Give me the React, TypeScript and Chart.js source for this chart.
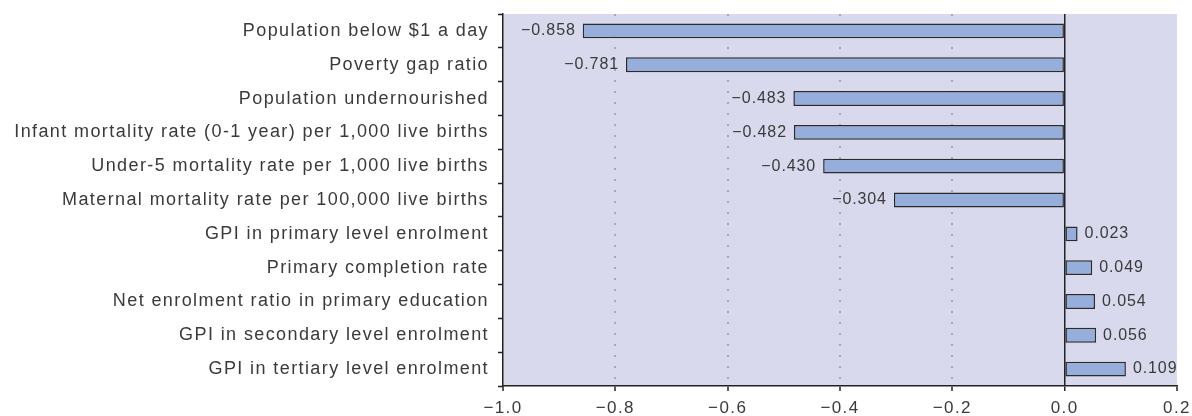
import React, { useEffect, useRef } from "react";
import { Chart, registerables } from "chart.js";

Chart.register(...registerables);

const categories = [
  "Population below $1 a day",
  "Poverty gap ratio",
  "Population undernourished",
  "Infant mortality rate (0-1 year) per 1,000 live births",
  "Under-5 mortality rate per 1,000 live births",
  "Maternal mortality rate per 100,000 live births",
  "GPI in primary level enrolment",
  "Primary completion rate",
  "Net enrolment ratio in primary education",
  "GPI in secondary level enrolment",
  "GPI in tertiary level enrolment",
];

const correlations = [-0.858, -0.781, -0.483, -0.482, -0.43, -0.304, 0.023, 0.049, 0.054, 0.056, 0.109];

const xMin = -1.0;
const xMax = 0.2;
const xStep = 0.2;

const FONT = "'Liberation Sans', Arial, sans-serif";
const TEXT = "#3a3a3a";
const PLOT_BG = "#d9d9ed";

const fmt = (v: number, d: number) => {
  const s = Math.abs(v).toFixed(d);
  return v < 0 ? "\u2212" + s : s;
};

const plotBg = {
  id: "plotBg",
  beforeDraw(chart: any) {
    const { ctx, chartArea } = chart;
    (ctx as any).letterSpacing = "1.4px";
    ctx.save();
    ctx.fillStyle = PLOT_BG;
    ctx.fillRect(chartArea.left, chartArea.top, chartArea.right - chartArea.left, chartArea.bottom - chartArea.top);
    ctx.restore();
  },
};

const valueLabels = {
  id: "valueLabels",
  afterDatasetsDraw(chart: any) {
    const { ctx } = chart;
    const meta = chart.getDatasetMeta(0);
    const data = chart.data.datasets[0].data as number[];
    ctx.save();
    (ctx as any).letterSpacing = "0.9px";
    ctx.font = `16px ${FONT}`;
    ctx.fillStyle = TEXT;
    ctx.textBaseline = "middle";
    meta.data.forEach((bar: any, i: number) => {
      const v = data[i];
      if (v < 0) {
        ctx.textAlign = "right";
        ctx.fillText(fmt(v, 3), bar.x - 7, bar.y);
      } else {
        ctx.textAlign = "left";
        ctx.fillText(fmt(v, 3), bar.x + 7, bar.y);
      }
    });
    ctx.restore();
  },
};

export default function App() {
  const ref = useRef<HTMLCanvasElement | null>(null);

  useEffect(() => {
    document.body.style.margin = "0";
    if (!ref.current) return;
    const chart = new Chart(ref.current, {
      type: "bar",
      data: {
        labels: categories,
        datasets: [
          {
            data: correlations,
            backgroundColor: "#96aedb",
            borderColor: "#2b2b2b",
            borderWidth: 1.5,
            borderSkipped: false,
            categoryPercentage: 1,
            barPercentage: 0.44,
          },
        ],
      },
      options: {
        indexAxis: "y",
        animation: false,
        responsive: false,
        maintainAspectRatio: false,
        devicePixelRatio: 1,
        layout: { padding: { top: 14, right: 15, bottom: 0, left: 0 } },
        plugins: {
          legend: { display: false },
          tooltip: { enabled: false },
        },
        scales: {
          x: {
            type: "linear",
            min: xMin,
            max: xMax,
            afterFit(scale: any) {
              scale.height = 30;
              scale.paddingLeft = 0;
              scale.paddingRight = 0;
            },
            afterBuildTicks(scale: any) {
              const t = [];
              for (let v = xMin; v <= xMax + 1e-9; v += xStep) t.push({ value: Math.round(v * 10) / 10 });
              scale.ticks = t;
            },
            ticks: {
              color: TEXT,
              font: { family: FONT, size: 17 },
              padding: 7,
              callback: (v: any) => fmt(Number(v), 1),
            },
            grid: {
              drawOnChartArea: true,
              drawTicks: true,
              tickLength: 5,
              tickColor: "#222",
              tickWidth: 1.5,
              lineWidth: (ctx: any) => (ctx.tick && Math.abs(ctx.tick.value) < 1e-9 ? 1.5 : 2),
              color: (ctx: any) => {
                const v = ctx.tick ? ctx.tick.value : null;
                if (v === null) return "rgba(0,0,0,0)";
                if (Math.abs(v) < 1e-9) return "#222";
                if (Math.abs(v - xMin) < 1e-9 || Math.abs(v - xMax) < 1e-9) return "rgba(0,0,0,0)";
                return "#a8a8b6";
              },
            },
            border: {
              display: true,
              color: "#222",
              width: 1.5,
              dash: (ctx: any) => (ctx.tick && Math.abs(ctx.tick.value) < 1e-9 ? [] : [2, 9]),
            } as any,
          },
          y: {
            type: "category",
            afterFit(scale: any) {
              scale.width = 503;
              scale.paddingTop = 0;
              scale.paddingBottom = 0;
            },
            ticks: {
              color: TEXT,
              font: { family: FONT, size: 18 },
              padding: 9,
              autoSkip: false,
            },
            grid: {
              offset: true,
              drawOnChartArea: false,
              drawTicks: true,
              tickLength: 5,
              tickColor: "#222",
              tickWidth: 1.5,
              color: "#222",
            },
            border: { display: true, color: "#222", width: 1.5 },
          },
        },
      },
      plugins: [plotBg, valueLabels],
    } as any);
    return () => chart.destroy();
  }, []);

  return (
    <div style={{ position: "fixed", left: 0, top: 0, width: 1192, height: 416 }}>
      <canvas ref={ref} width={1192} height={416} style={{ width: 1192, height: 416 }} />
    </div>
  );
}
